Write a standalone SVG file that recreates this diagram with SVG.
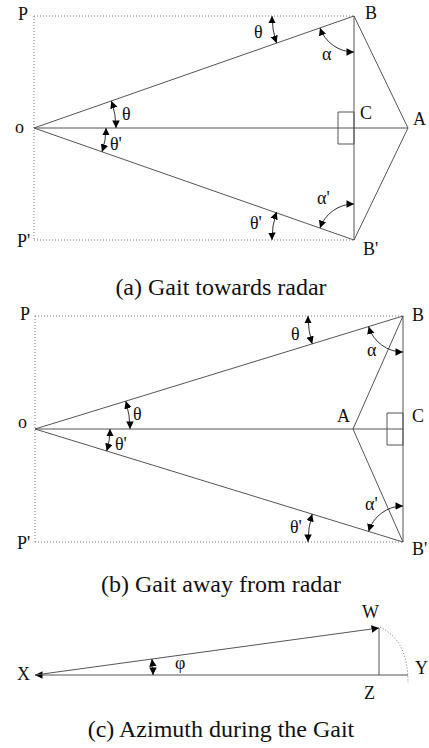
<svg xmlns="http://www.w3.org/2000/svg" width="429" height="748" viewBox="0 0 429 748">
<style>
.ln{stroke:#555;stroke-width:1;fill:none}
.dt{stroke:#777;stroke-width:1;fill:none;stroke-dasharray:1,2}
.arc{stroke:#333;stroke-width:1;fill:none;marker-start:url(#ah);marker-end:url(#ah)}
text{font-family:"Liberation Serif","Times New Roman",serif;fill:#111}
.lb{font-size:18px}
.cap{font-size:24px;text-anchor:middle}
</style>
<defs>
<marker id="ah" markerUnits="userSpaceOnUse" markerWidth="9" markerHeight="9" refX="7.5" refY="3.75" orient="auto-start-reverse"><path d="M0,0 L7.5,3.75 L0,7.5 z" fill="#000"/></marker>
</defs>
<rect width="429" height="748" fill="#fff"/>
<g id="connectors">
<path class="dt" d="M34,16 H354 M34,16 V240 M34,240 H354"/>
<path class="ln" d="M34,128 L354,16 L354,240 Z M34,128 H408 M354,16 L408,128 L354,240"/>
<path class="ln" d="M338,112 H354 V144 H338 Z"/>
<path class="arc" d="M116,128 A82,82 0 0,0 111.4,100.9"/>
<path class="arc" d="M106,128 A72,72 0 0,1 102,151.8"/>
<path class="arc" d="M272,16 A82,82 0 0,0 276.6,43.1"/>
<path class="arc" d="M320,27.9 A36,36 0 0,0 354,52"/>
<path class="arc" d="M320,228.1 A36,36 0 0,1 354,204"/>
<path class="arc" d="M272,240 A82,82 0 0,1 276.6,211.9"/>
<path class="dt" d="M35,316 H403 M35,316 V542 M35,542 H403"/>
<path class="ln" d="M35,429 L403,316 L403,542 Z M35,429 H403 M403,316 L353,429 L403,542"/>
<path class="ln" d="M387,413 H403 V445 H387 Z"/>
<path class="arc" d="M130,429 A95,95 0 0,0 125.8,401.1"/>
<path class="arc" d="M110,429 A75,75 0 0,1 106.7,451"/>
<path class="arc" d="M308,316 A95,95 0 0,0 312.2,343.9"/>
<path class="arc" d="M368.6,326.6 A36,36 0 0,0 403,352"/>
<path class="arc" d="M368.6,531.4 A36,36 0 0,1 403,506"/>
<path class="arc" d="M308,542 A95,95 0 0,1 312.2,514.1"/>
<path class="ln" d="M408,675 H35" marker-end="url(#ah)"/>
<path class="ln" d="M35,675 L379,628" marker-end="url(#ah)"/>
<path class="ln" d="M379,628 V675"/>
<path class="dt" d="M380,627 C398,636 408,652 408,683"/>
<path class="arc" d="M153,675 A118,118 0 0,0 151.9,659"/>
</g>
<g id="node-a-labels">
<text class="lb" x="18" y="20">P</text>
<text class="lb" x="365" y="19">B</text>
<text class="lb" x="15" y="133">o</text>
<text class="lb" x="360" y="119">C</text>
<text class="lb" x="413" y="125">A</text>
<text class="lb" x="17" y="247">P'</text>
<text class="lb" x="363" y="255">B'</text>
<text class="lb" x="122" y="120">θ</text>
<text class="lb" x="110" y="150">θ'</text>
<text class="lb" x="254" y="38">θ</text>
<text class="lb" x="322" y="60">α</text>
<text class="lb" x="317" y="204">α'</text>
<text class="lb" x="250" y="229">θ'</text>
<text class="cap" x="221" y="295">(a) Gait towards radar</text>
</g>
<g id="node-b-labels">
<text class="lb" x="20" y="320">P</text>
<text class="lb" x="412" y="321">B</text>
<text class="lb" x="291" y="340">θ</text>
<text class="lb" x="367" y="356">α</text>
<text class="lb" x="337" y="422">A</text>
<text class="lb" x="412" y="422">C</text>
<text class="lb" x="18" y="428">o</text>
<text class="lb" x="133" y="420">θ</text>
<text class="lb" x="115" y="450">θ'</text>
<text class="lb" x="17" y="549">P'</text>
<text class="lb" x="365" y="510">α'</text>
<text class="lb" x="290" y="533">θ'</text>
<text class="lb" x="412" y="555">B'</text>
<text class="cap" x="221" y="592">(b) Gait away from radar</text>
</g>
<g id="node-c-labels">
<text class="lb" x="17" y="680">X</text>
<text class="lb" x="175" y="669">φ</text>
<text class="lb" x="362" y="618">W</text>
<text class="lb" x="415" y="674">Y</text>
<text class="lb" x="364" y="699">Z</text>
<text class="cap" x="221" y="737">(c) Azimuth during the Gait</text>
</g>
</svg>
